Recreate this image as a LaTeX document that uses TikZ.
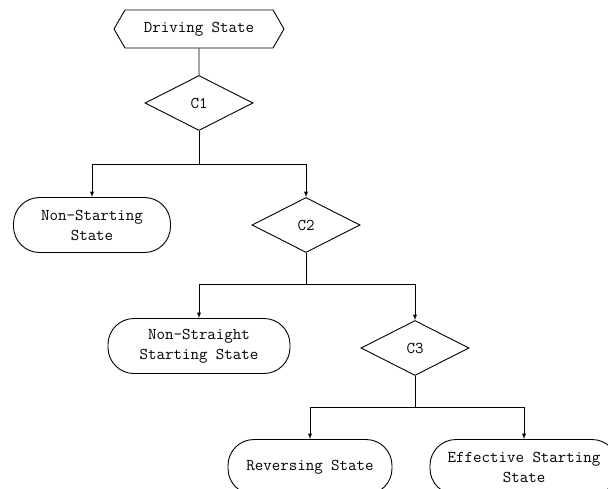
\documentclass[tikz,border=0pt]{standalone}
\usetikzlibrary{shapes.geometric, shapes.symbols}

\tikzset{
  state/.style={draw, line width=0.9pt, rectangle, rounded corners=26pt, align=center,
    minimum height=55pt, inner sep=2pt},
  cond/.style={draw, line width=0.9pt, diamond, minimum width=108pt, minimum height=55pt,
    inner sep=0pt},
  start/.style={draw, line width=0.9pt, shape=signal, signal to=west and east,
    signal pointer angle=120, minimum width=170pt, minimum height=38pt, inner sep=0pt},
  link/.style={line width=0.9pt, >=latex}
}

\begin{document}
\begin{tikzpicture}[x=1pt, y=-1pt, every node/.style={font=\ttfamily\fontsize{16.5}{20}\selectfont}]
    \useasboundingbox (0,0) rectangle (608,488);

    % Nodes
    \node[start] (drive) at (199,29) {Driving State};
    \node[cond] (c1) at (199,103) {C1};
    \node[state, minimum width=157pt] (nonstart) at (92,225) {Non-Starting\\State};
    \node[cond] (c2) at (306,225) {C2};
    \node[state, minimum width=182pt] (nonstraight) at (199,346) {Non-Straight\\Starting State};
    \node[cond] (c3) at (415,348) {C3};
    \node[state, minimum width=164pt] (reverse) at (310,467) {Reversing State};
    \node[state, minimum width=188pt] (effective) at (524,467) {Effective Starting\\State};

    % Branch points
    \coordinate (j1) at (199,164);
    \coordinate (j2) at (306,284);
    \coordinate (j3) at (415,407);

    % Connectors
    \draw[link] (drive) -- (c1);
    \draw[link] (c1) -- (j1);
    \draw[link, ->] (j1) -| (nonstart);
    \draw[link, ->] (j1) -| (c2);
    \draw[link] (c2) -- (j2);
    \draw[link, ->] (j2) -| (nonstraight);
    \draw[link, ->] (j2) -| (c3);
    \draw[link] (c3) -- (j3);
    \draw[link, ->] (j3) -| (reverse);
    \draw[link, ->] (j3) -| (effective);
\end{tikzpicture}
\end{document}
